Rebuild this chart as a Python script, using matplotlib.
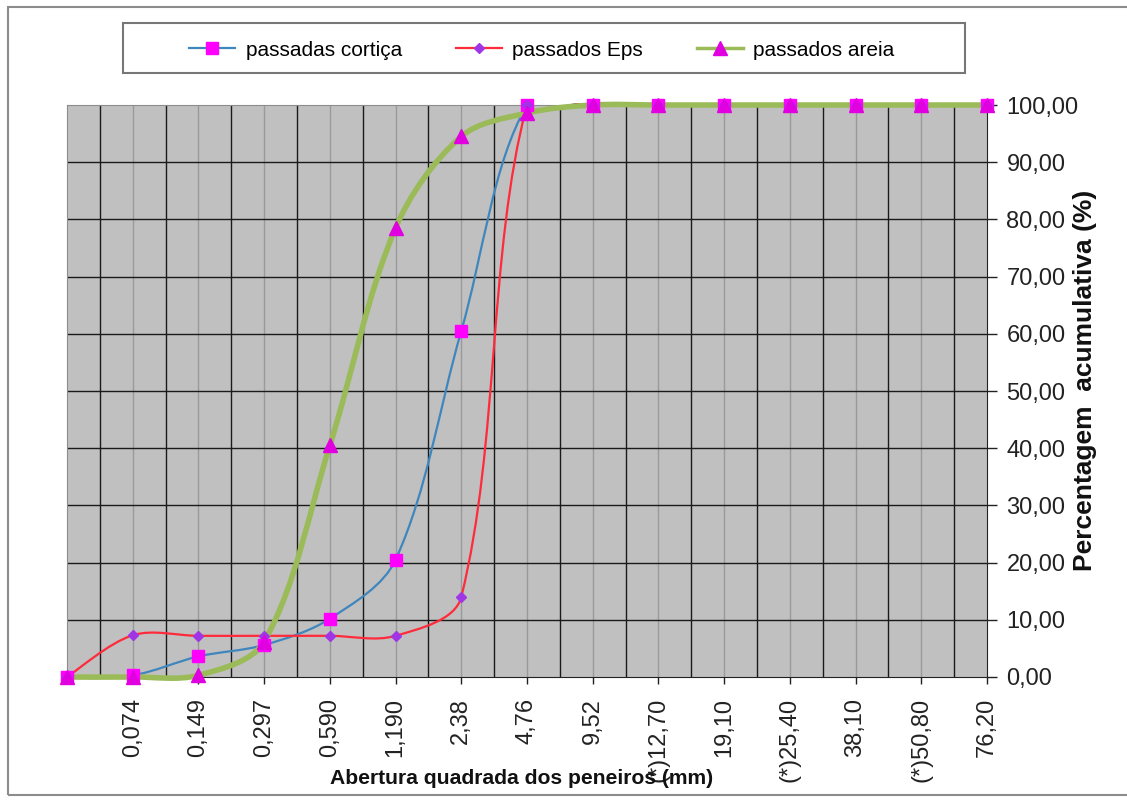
import matplotlib
matplotlib.use('Agg')
import matplotlib.pyplot as plt
from matplotlib.path import Path
from matplotlib.patches import PathPatch, Rectangle
from matplotlib.lines import Line2D
from matplotlib.ticker import FuncFormatter, MultipleLocator

plt.rcParams['font.family'] = ['Liberation Sans', 'DejaVu Sans']

# ==========================================
# DADOS - curva granulométrica
# ==========================================
aberturas = ['', '0,074', '0,149', '0,297', '0,590', '1,190', '2,38', '4,76', '9,52',
             '(*)12,70', '19,10', '(*)25,40', '38,10', '(*)50,80', '76,20']

passadas_cortica = [0, 0.3, 3.6, 5.6, 10.2, 20.5, 60.5, 100, 100, 100, 100, 100, 100, 100, 100]
passados_eps = [0, 7.3, 7.2, 7.2, 7.2, 7.2, 14.0, 100, 100, 100, 100, 100, 100, 100, 100]
passados_areia = [0, 0, 0.3, 6.2, 40.5, 78.5, 94.5, 98.6, 100, 100, 100, 100, 100, 100, 100]

posicoes = list(range(len(aberturas)))

# escala em pixels (para a suavização ficar parecida com a do Excel)
PX_X = 920 / 14
PX_Y = 572 / 100


def curva_suave(xs, ys):
    # bezier cubica entre pontos, tangentes pesadas pelo comprimento dos segmentos
    pts = [(x * PX_X, y * PX_Y) for x, y in zip(xs, ys)]
    n = len(pts)

    def dist(a, b):
        return ((a[0] - b[0]) ** 2 + (a[1] - b[1]) ** 2) ** 0.5

    verts = [pts[0]]
    codes = [Path.MOVETO]
    for i in range(n - 1):
        p0 = pts[max(i - 1, 0)]
        p1 = pts[i]
        p2 = pts[i + 1]
        p3 = pts[min(i + 2, n - 1)]
        d01, d12, d23 = dist(p0, p1), dist(p1, p2), dist(p2, p3)
        f1 = d12 / (3 * (d01 + d12)) if d01 > 0 else 1 / 6
        f2 = d12 / (3 * (d12 + d23)) if d23 > 0 else 1 / 6
        c1 = (p1[0] + (p2[0] - p0[0]) * f1, p1[1] + (p2[1] - p0[1]) * f1)
        c2 = (p2[0] - (p3[0] - p1[0]) * f2, p2[1] - (p3[1] - p1[1]) * f2)
        verts += [c1, c2, p2]
        codes += [Path.CURVE4] * 3
    verts = [(vx / PX_X, vy / PX_Y) for vx, vy in verts]
    return Path(verts, codes)


fig = plt.figure(figsize=(11.27, 8), dpi=100)
fig.patch.set_facecolor('white')

# moldura do gráfico
fig.add_artist(Rectangle((8 / 1127, 5 / 800), 1.2, 1 - 12 / 800, transform=fig.transFigure,
                         fill=False, edgecolor='#8c8c8c', linewidth=1.5))

ax = fig.add_axes([67 / 1127, 123 / 800, 920 / 1127, 572 / 800])
ax.set_facecolor('#c0c0c0')

# grelha
for xv in posicoes[1:-1]:
    ax.axvline(xv, color='#9a9a9a', linewidth=1, zorder=1)
for xv in posicoes[:-1]:
    ax.axvline(xv + 0.5, color='#1a1a1a', linewidth=1, zorder=1)
for yv in range(10, 100, 10):
    ax.axhline(yv, color='#1a1a1a', linewidth=1, zorder=1)

series = [
    (passadas_cortica, '#3f86bd', 1.6, 's', '#ff00ff', 9),
    (passados_eps, '#ff2a3a', 1.6, 'D', '#a035e6', 5.5),
    (passados_areia, '#9bbb59', 4.0, '^', '#e000e0', 10.5),
]

for ys, cor, lw, mk, cor_mk, ms in series:
    linha = PathPatch(curva_suave(posicoes, ys), facecolor='none', edgecolor=cor,
                      linewidth=lw, zorder=3)
    ax.add_patch(linha)
    if lw < 3:
        # corta o pequeno excesso acima de 100 (fica escondido no original)
        corte = Rectangle((-1, -2), 16, 102.3, transform=ax.transData)
        linha.set_clip_path(corte)
    else:
        linha.set_clip_on(False)
for ys, cor, lw, mk, cor_mk, ms in series:
    ax.plot(posicoes, ys, linestyle='none', marker=mk, markersize=ms, color=cor_mk,
            markeredgecolor=cor_mk, zorder=4, clip_on=False)

ax.set_xlim(0, len(aberturas) - 1)
ax.set_ylim(0, 100)

ax.set_xticks(posicoes)
ax.set_xticklabels(aberturas, rotation=90, fontsize=17, color='#222222')
ax.tick_params(axis='x', direction='out', length=5, width=1, pad=10, color='#222222')

ax.yaxis.tick_right()
ax.yaxis.set_major_locator(MultipleLocator(10))
ax.yaxis.set_major_formatter(FuncFormatter(lambda v, p: f'{v:.2f}'.replace('.', ',')))
ax.tick_params(axis='y', direction='out', length=7, width=1, pad=7, labelsize=17,
               labelcolor='#222222', color='#222222')

for lado in ['left', 'top']:
    ax.spines[lado].set_color('#8c8c8c')
for lado in ['bottom', 'right']:
    ax.spines[lado].set_color('#222222')

fig.text(522 / 1127, 1 - 778 / 800, 'Abertura quadrada dos peneiros (mm)', ha='center',
         va='center', fontsize=15.2, fontweight='bold', color='#111111')
fig.text(1085 / 1127, 1 - 380 / 800, 'Percentagem  acumulativa (%)', ha='center', va='center',
         rotation=90, fontsize=19, fontweight='bold', color='#111111')

# legenda
fig.add_artist(Rectangle((123 / 1127, 1 - 73 / 800), (965 - 123) / 1127, 50 / 800,
                         transform=fig.transFigure, facecolor='white', edgecolor='#777777',
                         linewidth=1.5, zorder=5))
handles = [Line2D([], [], color=c, linewidth=min(lw, 2.5), marker=mk, markersize=ms * 0.9,
                  markerfacecolor=cmk, markeredgecolor=cmk)
           for _, c, lw, mk, cmk, ms in series]
leg = fig.legend(handles, ['passadas cortiça', 'passados Eps', 'passados areia'],
                 loc='center', bbox_to_anchor=(542 / 1127, 1 - 50 / 800), ncol=3,
                 frameon=False, fontsize=15, handlelength=2.2, handletextpad=0.5,
                 columnspacing=2.6)
leg.set_zorder(6)

fig.savefig('out.png', dpi=100)
